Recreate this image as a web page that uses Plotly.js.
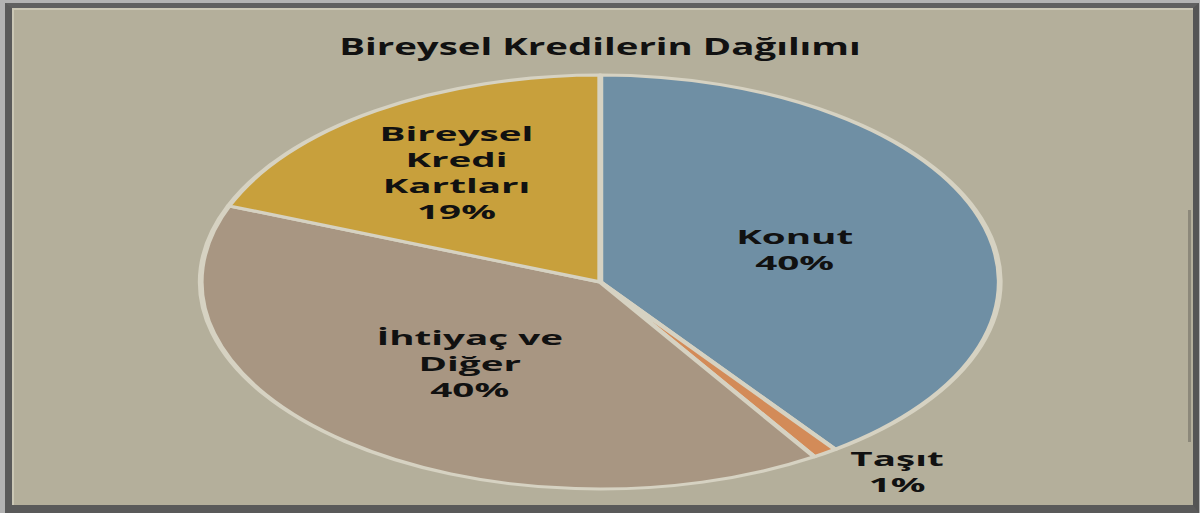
<!DOCTYPE html>
<html>
<head>
<meta charset="utf-8">
<script src="https://cdn.plot.ly/plotly-3.0.1.min.js"></script>
<style>
  html, body { margin: 0; padding: 0; width: 1200px; height: 513px; overflow: hidden; background: #b3b3b3; }
  #frame {
    position: absolute; left: 5px; top: 3px; width: 1181px; height: 497px;
    background: #B4AF9B;
    border-left: 7px solid #5a5a5a; border-top: 5px solid #606060;
    border-right: 6px solid #555555; border-bottom: 8px solid #5a5a5a;
    box-shadow: inset 2px 2px 0 #cbc7b5;
  }
  #sidebar { position: absolute; left: 1188px; top: 210px; width: 3px; height: 232px; background: #8c887a; }
  #chart { position: absolute; left: 0; top: 0; transform-origin: 0 0; }
</style>
</head>
<body>
<div id="frame"></div>
<div id="sidebar"></div>
<div id="chart"></div>
<script>
// Data
const titleText = "Bireysel Kredilerin Dağılımı";
const categories = ["Konut", "Taşıt", "İhtiyaç ve<br>Diğer", "Bireysel<br>Kredi<br>Kartları"];
const values = [40, 1, 40, 19];
const sliceColors = ["#6F8FA4", "#D38B58", "#A89682", "#C8A03C"];
const textPositions = ["inside", "outside", "inside", "inside"];

// Pie is drawn circular, then the whole chart is stretched horizontally
const stretch = 1.93;
const W = 1200 / stretch;
const H = 513;
const chartDiv = document.getElementById('chart');
chartDiv.style.width = W + 'px';
chartDiv.style.height = H + 'px';
chartDiv.style.transform = 'scaleX(' + stretch + ')';

const fontFamily = '"Open Sans", "Noto Sans", "DejaVu Sans", sans-serif';
const titleSize = 24;
const titleSqueeze = 0.83;   // title text is less stretched than the pie

const data = [{
  type: 'pie',
  labels: categories,
  values: values,
  sort: false,
  direction: 'clockwise',
  rotation: 0,
  marker: { colors: sliceColors, line: { color: '#D6D2C2', width: 3 } },
  textposition: textPositions,
  insidetextorientation: 'horizontal',
  texttemplate: '%{label}<br>%{percent:.0%}',
  textfont: { family: fontFamily, size: 20, color: '#111111', weight: 'bold' },
  hoverinfo: 'label+percent',
  showlegend: false
}];

const layout = {
  width: W,
  height: H,
  margin: { l: 0, r: 0, t: 75, b: 24 },
  paper_bgcolor: 'rgba(0,0,0,0)',
  plot_bgcolor: 'rgba(0,0,0,0)',
  title: {
    text: titleText,
    x: 0.5, xanchor: 'center',
    y: 0.91, yanchor: 'middle',
    font: { family: fontFamily, size: titleSize, color: '#111111', weight: 'bold' }
  },
  showlegend: false
};

Plotly.newPlot(chartDiv, data, layout, { staticPlot: true, displayModeBar: false }).then(function () {
  try {
    const g = chartDiv.querySelector('.g-gtitle');
    if (g) {
      const bb = g.getBBox();
      const cx = bb.x + bb.width / 2;
      g.setAttribute('transform', 'translate(' + cx + ',0) scale(' + titleSqueeze + ',1) translate(' + (-cx) + ',0)');
    }
  } catch (e) {}
});
</script>
</body>
</html>
